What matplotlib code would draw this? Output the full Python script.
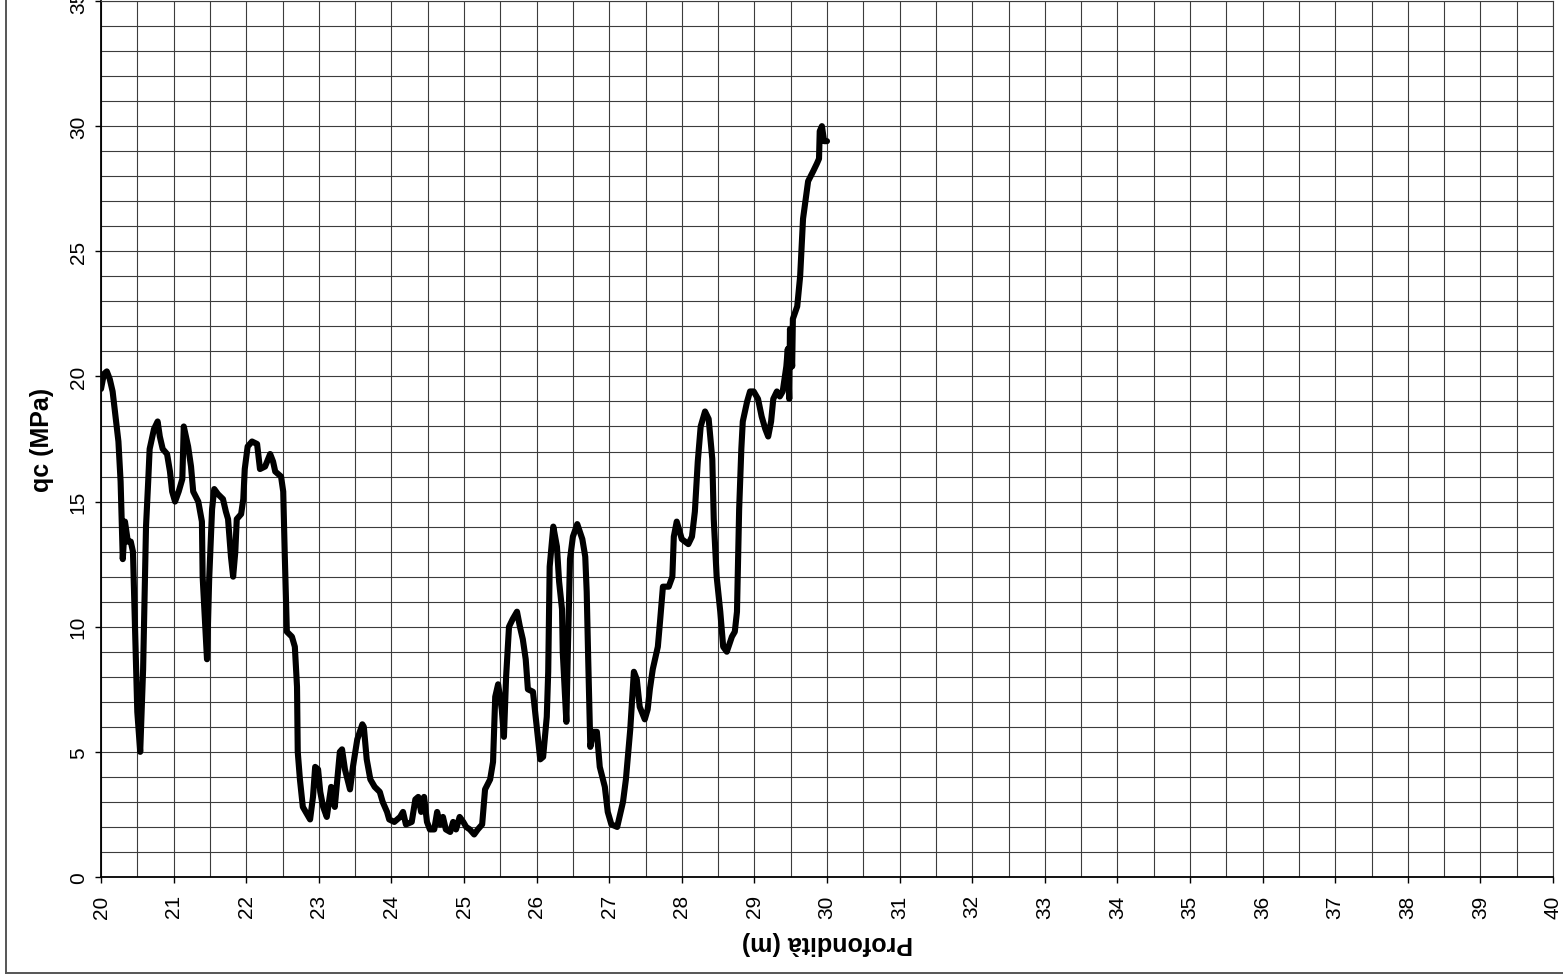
import matplotlib
matplotlib.use("Agg")
import matplotlib.pyplot as plt
from matplotlib.lines import Line2D
from matplotlib.ticker import MultipleLocator

plt.rcParams['font.family'] = ['Liberation Sans', 'DejaVu Sans']

# CPT cone resistance profile: depth (m) and qc (MPa)
depth = [
    20.00, 20.04, 20.08, 20.12, 20.16, 20.20, 20.24, 20.27, 20.30, 20.33,
    20.37, 20.41, 20.44, 20.47, 20.50, 20.54, 20.58, 20.62, 20.65, 20.67,
    20.73, 20.78, 20.81, 20.85, 20.91, 20.95, 20.98, 21.02, 21.07, 21.12,
    21.14, 21.20, 21.24, 21.27, 21.34, 21.39, 21.40, 21.46, 21.49, 21.53,
    21.56, 21.61, 21.68, 21.72, 21.75, 21.79, 21.82, 21.85, 21.87, 21.93,
    21.96, 21.98, 22.02, 22.08, 22.15, 22.19, 22.26, 22.33, 22.37, 22.40,
    22.48, 22.51, 22.53, 22.56, 22.63, 22.67, 22.70, 22.71, 22.74, 22.78,
    22.82, 22.88, 22.92, 22.95, 22.99, 23.02, 23.06, 23.11, 23.17, 23.22,
    23.29, 23.32, 23.36, 23.43, 23.47, 23.53, 23.60, 23.62, 23.66, 23.71,
    23.77, 23.84, 23.88, 23.94, 23.97, 24.04, 24.08, 24.12, 24.16, 24.20,
    24.28, 24.33, 24.37, 24.41, 24.45, 24.49, 24.53, 24.59, 24.63, 24.67,
    24.71, 24.75, 24.81, 24.85, 24.89, 24.94, 24.99, 25.03, 25.08, 25.14,
    25.19, 25.25, 25.29, 25.36, 25.40, 25.43, 25.47, 25.52, 25.55, 25.58,
    25.62, 25.67, 25.73, 25.77, 25.81, 25.85, 25.88, 25.95, 26.01, 26.05,
    26.09, 26.14, 26.16, 26.18, 26.23, 26.28, 26.31, 26.35, 26.36, 26.41,
    26.43, 26.46, 26.50, 26.56, 26.63, 26.67, 26.69, 26.71, 26.74, 26.78,
    26.83, 26.87, 26.94, 26.98, 27.03, 27.11, 27.19, 27.23, 27.29, 27.31,
    27.34, 27.38, 27.42, 27.49, 27.53, 27.56, 27.60, 27.67, 27.70, 27.74,
    27.80, 27.82, 27.87, 27.89, 27.93, 28.00, 28.09, 28.14, 28.18, 28.22,
    28.26, 28.32, 28.37, 28.42, 28.44, 28.48, 28.53, 28.57, 28.62, 28.69,
    28.73, 28.76, 28.79, 28.82, 28.84, 28.90, 28.94, 28.99, 29.05, 29.10,
    29.15, 29.19, 29.23, 29.26, 29.31, 29.35, 29.39, 29.44, 29.46, 29.48,
    29.49, 29.52, 29.53, 29.59, 29.63, 29.67, 29.74, 29.81, 29.86, 29.89,
    29.90, 29.93, 29.96, 30.00,
]
qc = [
    19.5, 20.1, 20.2, 19.9, 19.4, 18.4, 17.4, 15.8, 12.7, 14.2,
    13.4, 13.4, 13.0, 9.8, 6.6, 5.0, 8.3, 14.0, 15.8, 17.1,
    17.9, 18.2, 17.6, 17.1, 16.9, 16.2, 15.4, 15.0, 15.4, 15.9,
    18.0, 17.2, 16.4, 15.4, 15.0, 14.2, 12.0, 8.7, 11.9, 14.7,
    15.5, 15.3, 15.1, 14.6, 14.3, 12.8, 12.0, 13.0, 14.3, 14.5,
    15.1, 16.3, 17.2, 17.4, 17.3, 16.3, 16.4, 16.9, 16.6, 16.2,
    16.0, 15.4, 13.0, 9.8, 9.6, 9.2, 7.6, 5.0, 3.9, 2.8,
    2.6, 2.3, 3.2, 4.4, 4.3, 3.4, 2.8, 2.4, 3.6, 2.8,
    5.0, 5.1, 4.3, 3.5, 4.4, 5.5, 6.1, 6.0, 4.7, 3.9,
    3.6, 3.4, 3.0, 2.6, 2.3, 2.2, 2.3, 2.4, 2.6, 2.1,
    2.2, 3.1, 3.2, 2.6, 3.2, 2.2, 1.9, 1.9, 2.6, 2.1,
    2.4, 1.9, 1.8, 2.2, 1.9, 2.4, 2.2, 2.0, 1.9, 1.7,
    1.9, 2.1, 3.5, 3.9, 4.6, 7.2, 7.7, 6.7, 5.6, 8.0,
    10.0, 10.3, 10.6, 10.0, 9.5, 8.7, 7.5, 7.4, 5.8, 4.7,
    4.8, 6.4, 8.2, 12.4, 14.0, 13.2, 11.8, 10.7, 9.0, 6.2,
    9.0, 12.7, 13.6, 14.1, 13.5, 12.8, 11.4, 8.8, 5.2, 5.8,
    5.8, 4.4, 3.6, 2.6, 2.1, 2.0, 3.0, 3.9, 5.9, 6.8,
    8.2, 7.9, 6.8, 6.3, 6.7, 7.5, 8.3, 9.2, 10.2, 11.6,
    11.6, 11.6, 12.0, 13.6, 14.2, 13.5, 13.3, 13.6, 14.6, 16.6,
    18.0, 18.6, 18.3, 16.7, 14.3, 12.0, 10.6, 9.2, 9.0, 9.6,
    9.8, 10.6, 14.7, 17.1, 18.2, 19.0, 19.4, 19.4, 19.1, 18.4,
    17.9, 17.6, 18.2, 19.1, 19.4, 19.2, 19.4, 20.4, 21.1, 19.1,
    21.9, 20.4, 22.3, 22.8, 24.0, 26.3, 27.8, 28.2, 28.5, 28.7,
    29.8, 30.0, 29.4, 29.4,
]

x_ticks = list(range(20, 41))
y_ticks = list(range(0, 36, 5))
x_label = "Profondità (m)"
y_label = "qc (MPa)"

fig = plt.figure(figsize=(15.63, 9.79), dpi=100)
ax = fig.add_axes([101 / 1563, 1 - 878 / 979, 1452 / 1563, 876 / 979])

ax.plot(depth, qc, color='black', lw=4.4, solid_joinstyle='round',
        solid_capstyle='round', zorder=3)

ax.set_xlim(20, 40)
ax.set_ylim(0, 35)
ax.set_xticks(x_ticks)
ax.set_yticks(y_ticks)
ax.xaxis.set_minor_locator(MultipleLocator(0.5))
ax.yaxis.set_minor_locator(MultipleLocator(1))

grid_color = '#3c3c3c'
ax.grid(True, which='both', color=grid_color, lw=0.8, zorder=0)
ax.set_axisbelow(True)

ax.tick_params(axis='both', which='major', direction='out', length=4.5,
               width=1.0, color='black', labelsize=15)
ax.tick_params(axis='both', which='minor', length=0)
ax.tick_params(axis='x', labelrotation=90, pad=8)
ax.tick_params(axis='y', labelrotation=90, pad=5)
for lbl in ax.get_yticklabels():
    lbl.set_va('center')

for side in ('left', 'bottom'):
    ax.spines[side].set_color('black')
    ax.spines[side].set_linewidth(1.3)
for side in ('top', 'right'):
    ax.spines[side].set_color(grid_color)
    ax.spines[side].set_linewidth(0.8)

ax.set_xlabel(x_label, fontsize=18, fontweight='bold', rotation=180, va='center')
ax.xaxis.set_label_coords(0.5, -0.074)
ax.set_ylabel(y_label, fontsize=18, fontweight='bold', rotation=90, va='center')
ax.yaxis.set_label_coords(-0.0406, 0.5)

# chart area border
W, H = 1563, 979
fig.add_artist(Line2D([6 / W, 6 / W], [1, 1 - 974 / H], transform=fig.transFigure,
                      color='#555555', lw=1.4))
fig.add_artist(Line2D([6 / W, 1], [1 - 974 / H, 1 - 974 / H], transform=fig.transFigure,
                      color='#555555', lw=1.4))

fig.savefig("out.png", dpi=100)
